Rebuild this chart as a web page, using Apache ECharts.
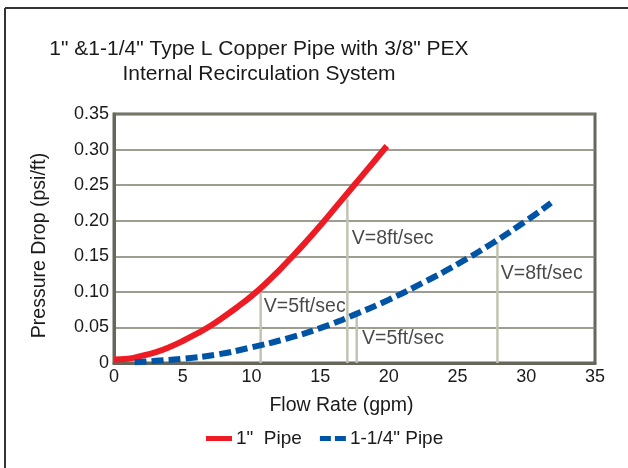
<!DOCTYPE html>
<html>
<head>
<meta charset="utf-8">
<script src="https://cdn.jsdelivr.net/npm/echarts@6/dist/echarts.min.js"></script>
<style>
html,body{margin:0;padding:0;background:#fff;}
#c{width:628px;height:468px;}
</style>
</head>
<body>
<div id="c"></div>
<script>
// Data
const titleLines = ['1" &1-1/4" Type L Copper Pipe with 3/8" PEX', 'Internal Recirculation System'];
const xTitle = 'Flow Rate (gpm)';
const yTitle = 'Pressure Drop (psi/ft)';
const seriesNames = ['1"  Pipe', '1-1/4" Pipe'];

// 1" pipe: [flow gpm, psi/ft]
const pipe1 = [[0,0.005],[1,0.006],[2,0.010],[3,0.015],[4,0.022],[5,0.031],[6,0.041],[7,0.052],[8,0.065],[9,0.079],[10,0.094],[11,0.111],[12,0.130],[13,0.150],[14,0.171],[15,0.193],[16,0.216],[17,0.239],[18,0.262],[19,0.285],[19.85,0.305]];
// 1-1/4" pipe
const pipe114 = [[1.5,0.001],[3,0.003],[5,0.006],[7.5,0.012],[10,0.022],[12.5,0.034],[15,0.049],[17.5,0.068],[20,0.089],[22.5,0.113],[25,0.139],[27.5,0.168],[30,0.200],[31.8,0.225]];

// velocity guide lines
const guideX = [10.67, 16.98, 17.66, 27.9];
const guideTop = [0.10, 0.23, 0.068, 0.17];
// velocity labels
const labelText = ['V=5ft/sec', 'V=8ft/sec', 'V=5ft/sec', 'V=8ft/sec'];
const labelX = [10.9, 17.3, 18.05, 28.15];
const labelY = [0.079, 0.175, 0.034, 0.126];

const xTicks = [0, 5, 10, 15, 20, 25, 30, 35];
const yTicks = [0, 0.05, 0.10, 0.15, 0.20, 0.25, 0.30, 0.35];

const FONT = '"Liberation Sans", Arial, Helvetica, sans-serif';
const TXT = '#1a1a1a';
const RED = '#ed1c24';
const BLUE = '#0054a6';
const chart = echarts.init(document.getElementById('c'), null, {renderer: 'canvas'});

const guideSeries = guideX.map((x, i) => ({
  type: 'line', silent: true, symbol: 'none', z: 1,
  lineStyle: {color: '#c3c3b3', width: 2.5},
  data: [[x, 0], [x, guideTop[i]]]
}));

const option = {
  animation: false,
  backgroundColor: '#fff',
  title: {
    text: titleLines.join('\n'),
    left: 254, top: 32, textAlign: 'center',
    textStyle: {fontFamily: FONT, fontSize: 21, fontWeight: 'normal', color: TXT, lineHeight: 25}
  },
  graphic: [
    {type: 'line', shape: {x1: 5, y1: 8, x2: 628, y2: 8}, style: {stroke: '#333', lineWidth: 2}},
    {type: 'line', shape: {x1: 5, y1: 8, x2: 5, y2: 468}, style: {stroke: '#333', lineWidth: 2}}
  ],
  legend: {
    data: [
      {name: seriesNames[0], icon: 'path://M0,0H26V5H0Z', itemStyle: {color: RED}},
      {name: seriesNames[1], icon: 'path://M0,0H11V5H0Z M15,0H26V5H15Z', itemStyle: {color: BLUE}}
    ],
    left: 201, top: 424,
    itemWidth: 26, itemHeight: 5, itemGap: 18,
    textStyle: {fontFamily: FONT, fontSize: 19, color: TXT, padding: [0,0,0,-1]}
  },
  grid: {
    left: 114, right: 33, top: 114, bottom: 105,
    show: true, borderColor: '#66665a', borderWidth: 3, backgroundColor: 'transparent'
  },
  xAxis: {
    type: 'value', min: 0, max: 35, interval: 5,
    name: xTitle, nameLocation: 'middle', nameGap: 33,
    nameTextStyle: {fontFamily: FONT, fontSize: 19.5, color: TXT, padding: [0, 26, 0, 0]},
    axisLine: {show: true, lineStyle: {color: '#66665a', width: 3}},
    axisTick: {show: false},
    splitLine: {show: false},
    axisLabel: {fontFamily: FONT, fontSize: 18, color: TXT, margin: 5,
      formatter: v => xTicks.includes(v) ? String(v) : ''}
  },
  yAxis: {
    type: 'value', min: 0, max: 0.35, interval: 0.05,
    name: yTitle, nameLocation: 'middle', nameGap: 64, nameRotate: 90,
    nameTextStyle: {fontFamily: FONT, fontSize: 19.5, color: TXT, padding: [0, 14, 0, 0]},
    axisLine: {show: true, lineStyle: {color: '#66665a', width: 3}},
    axisTick: {show: false},
    splitLine: {show: true, lineStyle: {color: '#7d7d6e', width: 1.5}},
    axisLabel: {fontFamily: FONT, fontSize: 18, color: TXT, margin: 5,
      formatter: v => { const t = yTicks.find(k => Math.abs(k - v) < 1e-9); return t === 0 ? '0' : t.toFixed(2); }}
  },
  series: [
    ...guideSeries,
    {
      name: seriesNames[0], type: 'line', smooth: true, symbol: 'none', z: 3,
      lineStyle: {color: RED, width: 6},
      itemStyle: {color: RED},
      data: pipe1
    },
    {
      name: seriesNames[1], type: 'line', smooth: true, symbol: 'none', z: 3,
      lineStyle: {color: BLUE, width: 6, type: [12, 5]},
      itemStyle: {color: BLUE},
      data: pipe114
    },
    {
      type: 'scatter', silent: true, symbolSize: 0, z: 4,
      label: {show: true, position: 'right', distance: 0, formatter: p => labelText[p.dataIndex],
        fontFamily: FONT, fontSize: 19.5, color: TXT},
      data: labelX.map((x, i) => [x, labelY[i]])
    }
  ]
};
chart.setOption(option);
</script>
</body>
</html>
